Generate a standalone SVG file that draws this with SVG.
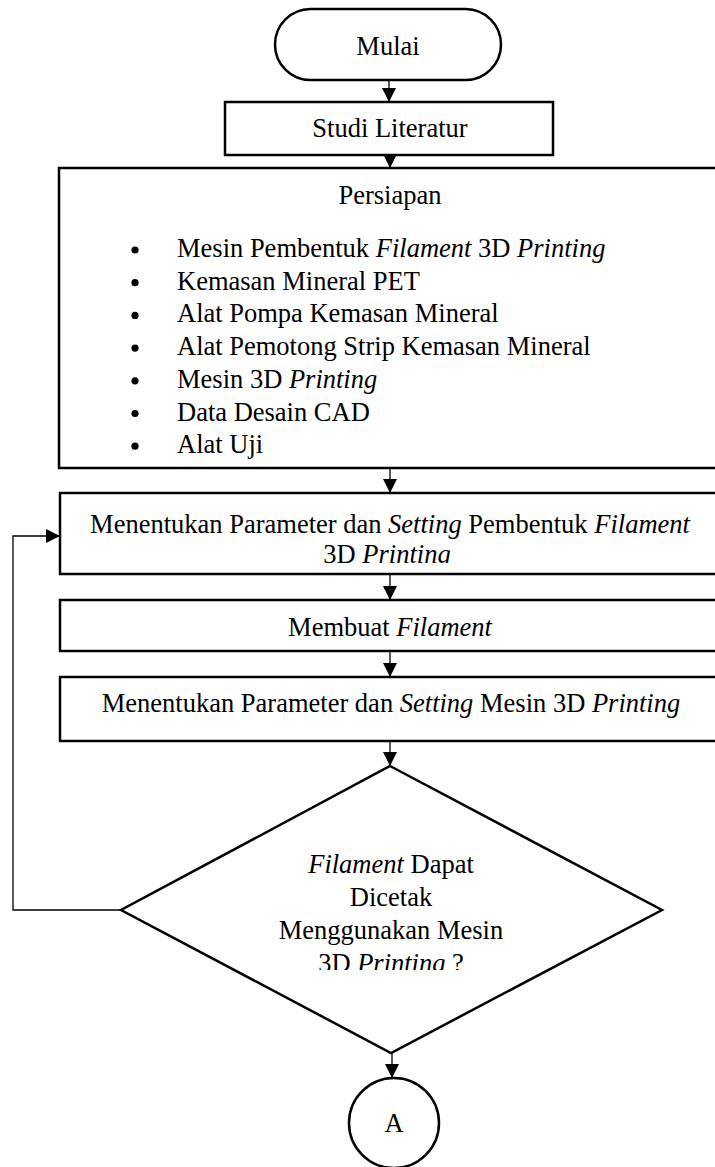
<svg xmlns="http://www.w3.org/2000/svg" width="715" height="1167" viewBox="0 0 715 1167">
<style>
.box{fill:#fff;stroke:#000;stroke-width:2.5}
.con{fill:none;stroke:#000;stroke-width:1.3}
.t{font-family:"Liberation Serif","Times New Roman",serif;font-size:26.5px;fill:#000}
.c{text-anchor:middle}
.i{font-style:italic}
</style>
<defs>
<marker id="ah" viewBox="0 0 14 14" refX="14" refY="7" markerWidth="14" markerHeight="14" markerUnits="userSpaceOnUse" orient="auto">
<path d="M0,0 L14,7 L0,14 Z" fill="#000"/>
</marker>
<clipPath id="clip2"><rect x="0" y="480" width="715" height="83"/></clipPath>
<clipPath id="clipD"><rect x="0" y="840" width="715" height="130"/></clipPath>
</defs>
<rect width="715" height="1167" fill="#fff"/>
<g id="connectors">
<line class="con" x1="389" y1="80" x2="389" y2="102" marker-end="url(#ah)"/>
<line class="con" x1="390" y1="155" x2="390" y2="168" marker-end="url(#ah)"/>
<line class="con" x1="390" y1="468" x2="390" y2="493" marker-end="url(#ah)"/>
<line class="con" x1="390" y1="574" x2="390" y2="600" marker-end="url(#ah)"/>
<line class="con" x1="390" y1="651" x2="390" y2="677" marker-end="url(#ah)"/>
<line class="con" x1="390" y1="741" x2="390" y2="766" marker-end="url(#ah)"/>
<line class="con" x1="392" y1="1053" x2="392" y2="1078" marker-end="url(#ah)"/>
<polyline class="con" points="121,910 13,910 13,536 60,536" marker-end="url(#ah)"/>
</g>
<g id="mulai">
<rect class="box" x="275" y="9" width="226" height="71" rx="35.5"/>
<text class="t c" x="388" y="55">Mulai</text>
</g>
<g id="studi">
<rect class="box" x="225" y="102" width="328" height="53"/>
<text class="t c" x="390" y="137">Studi Literatur</text>
</g>
<g id="persiapan">
<rect class="box" x="59" y="168" width="663" height="300"/>
<text class="t c" x="390" y="204">Persiapan</text>
<g fill="#000">
<circle cx="135" cy="250" r="3.6"/>
<circle cx="135" cy="282.7" r="3.6"/>
<circle cx="135" cy="315.4" r="3.6"/>
<circle cx="135" cy="348.1" r="3.6"/>
<circle cx="135" cy="380.8" r="3.6"/>
<circle cx="135" cy="413.5" r="3.6"/>
<circle cx="135" cy="446.2" r="3.6"/>
</g>
<text class="t" x="177" y="257">Mesin Pembentuk <tspan class="i">Filament</tspan> 3D <tspan class="i">Printing</tspan></text>
<text class="t" x="177" y="289.7">Kemasan Mineral PET</text>
<text class="t" x="177" y="322.4">Alat Pompa Kemasan Mineral</text>
<text class="t" x="177" y="355.1">Alat Pemotong Strip Kemasan Mineral</text>
<text class="t" x="177" y="387.8">Mesin 3D <tspan class="i">Printing</tspan></text>
<text class="t" x="177" y="420.5">Data Desain CAD</text>
<text class="t" x="177" y="453.2">Alat Uji</text>
</g>
<g id="param-filament">
<rect class="box" x="60" y="493" width="662" height="81"/>
<text class="t c" x="390" y="533">Menentukan Parameter dan <tspan class="i">Setting</tspan> Pembentuk <tspan class="i">Filament</tspan></text>
<text class="t c" x="387" y="563" clip-path="url(#clip2)">3D <tspan class="i">Printing</tspan></text>
</g>
<g id="membuat">
<rect class="box" x="60" y="600" width="662" height="51"/>
<text class="t c" x="390" y="636">Membuat <tspan class="i">Filament</tspan></text>
</g>
<g id="param-mesin">
<rect class="box" x="60" y="677" width="662" height="64"/>
<text class="t c" x="391" y="712">Menentukan Parameter dan <tspan class="i">Setting</tspan> Mesin 3D <tspan class="i">Printing</tspan></text>
</g>
<g id="decision">
<polygon class="box" points="390,766 662,910 391,1053 121,910"/>
<g clip-path="url(#clipD)">
<text class="t c" x="391" y="873"><tspan class="i">Filament</tspan> Dapat</text>
<text class="t c" x="391" y="906">Dicetak</text>
<text class="t c" x="391" y="939">Menggunakan Mesin</text>
<text class="t c" x="391" y="972">3D <tspan class="i">Printing</tspan> ?</text>
</g>
</g>
<g id="connector-a">
<circle class="box" cx="394" cy="1123" r="45"/>
<text class="t c" x="394" y="1132">A</text>
</g>
</svg>
